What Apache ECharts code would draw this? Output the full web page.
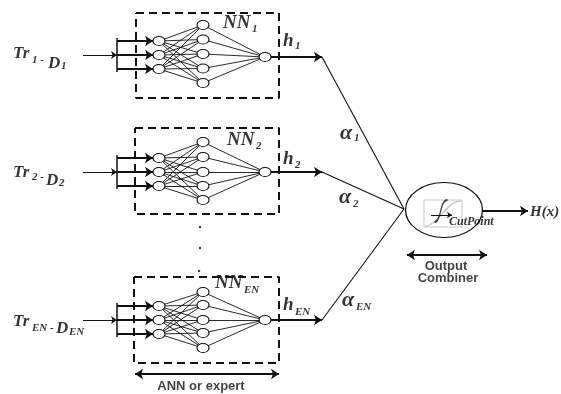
<!DOCTYPE html>
<html><head><meta charset="utf-8">
<script src="https://cdn.jsdelivr.net/npm/echarts@6/dist/echarts.min.js"></script>
<style>html,body{margin:0;padding:0;background:#fff}#c{width:561px;height:394px}</style>
</head><body><div id="c"></div>
<script>
// ---- diagram data (axis units = pixels of the 561x394 canvas) ----
const experts = ['1', '2', 'EN'];
const boxLeft = [136, 135, 134];
const boxRight = [279, 279, 279];
const boxTop = [13, 128, 277];
const boxBottom = [98, 214, 363];
const inputY = [[41, 55, 69], [158, 172, 186], [306, 320, 334]];
const hiddenY = [[25, 39.5, 54, 68.5, 83], [142, 157, 172, 186, 200], [292, 305, 320, 333, 348]];
const outputY = [57, 172, 320];
const trArrowY = [55, 172, 320];
const layerX = [159, 203, 265];
const bracketX = 117;
const trArrowStartX = 83;
const hArrowEndX = 322;
const combinerCenter = [444, 210];
const combinerJoin = [404, 209];
const outputArrowEnd = [528, 211];
const dotsX = [200, 200, 199];
const dotsY = [227, 248, 271];
const annArrow = [[135, 374], [279, 374]];
const combinerArrow = [[407, 255], [487, 255]];
const sigmoidBox = [[424, 200], [462, 200], [462, 227], [424, 227], [424, 200]];
const innerArrow = [[431, 215], [452, 215]];

// text content
const trMain = ['Tr', 'Tr', 'Tr'];
const trSubA = ['1 -', '2 -', 'EN -'];
const trD = ['D', 'D', 'D'];
const trSubB = ['1', '2', 'EN'];
const nnMain = ['NN', 'NN', 'NN'];
const hMain = ['h', 'h', 'h'];
const alphaMain = ['α', 'α', 'α'];
const subs = ['1', '2', 'EN'];

// text layout (left x, centre y)
const trMainPos = [[13, 54], [13, 173], [13, 322]];
const trSubAPos = [[32, 60], [32, 177.5], [32, 328.5]];
const trDPos = [[48, 64], [46, 180.5], [56, 329]];
const trSubBPos = [[61, 66.5], [59, 183.5], [69, 332]];
const nnPos = [[223, 23], [227, 140], [215, 283]];
const nnSubPos = [[252, 29], [256, 146], [244, 290]];
const hPos = [[283, 41], [283, 159], [283, 305]];
const hSubPos = [[295, 46.5], [295, 165], [295, 312.5]];
const alphaPos = [[340, 133], [339, 197], [342, 300]];
const alphaSubPos = [[354, 138.5], [353, 204], [356, 307.5]];

// ---- build ----
const series = [];
experts.forEach((e, i) => {
  series.push({
    type: 'line', symbol: 'none', silent: true, z: 2,
    lineStyle: {color: '#111', width: 2, type: [8, 5]},
    data: [[boxLeft[i], boxTop[i]], [boxRight[i], boxTop[i]], [boxRight[i], boxBottom[i]],
           [boxLeft[i], boxBottom[i]], [boxLeft[i], boxTop[i]]]
  });
});

const edges = [];
experts.forEach((e, i) => {
  inputY[i].forEach(y1 => hiddenY[i].forEach(y2 => edges.push({coords: [[layerX[0], y1], [layerX[1], y2]]})));
  hiddenY[i].forEach(y2 => edges.push({coords: [[layerX[1], y2], [layerX[2], outputY[i]]]}));
});
series.push({type: 'lines', coordinateSystem: 'cartesian2d', silent: true, z: 3,
  lineStyle: {color: '#111', width: 0.9, opacity: 1}, data: edges});

const brackets = experts.map((e, i) => ({coords: [[bracketX, inputY[i][0] - 3], [bracketX, inputY[i][2] + 3]]}));
series.push({type: 'lines', coordinateSystem: 'cartesian2d', silent: true, z: 3,
  lineStyle: {color: '#111', width: 1.5, opacity: 1}, data: brackets});

series.push({type: 'lines', coordinateSystem: 'cartesian2d', silent: true, z: 3,
  symbol: ['none', 'arrow'], symbolSize: 6,
  lineStyle: {color: '#111', width: 1, opacity: 1},
  data: experts.map((e, i) => ({coords: [[trArrowStartX, trArrowY[i]], [bracketX, trArrowY[i]]]}))});

const thick = [];
experts.forEach((e, i) => {
  inputY[i].forEach(y => thick.push({coords: [[bracketX, y], [layerX[0] - 6, y]]}));
  thick.push({coords: [[layerX[2] + 6, outputY[i]], [hArrowEndX, outputY[i]]]});
});
thick.push({coords: [[combinerCenter[0] + 39, outputArrowEnd[1]], outputArrowEnd]});
series.push({type: 'lines', coordinateSystem: 'cartesian2d', silent: true, z: 3,
  symbol: ['none', 'arrow'], symbolSize: 8,
  lineStyle: {color: '#111', width: 1.8, opacity: 1}, data: thick});

series.push({type: 'lines', coordinateSystem: 'cartesian2d', silent: true, z: 3,
  lineStyle: {color: '#111', width: 1.1, opacity: 1},
  data: experts.map((e, i) => ({coords: [[hArrowEndX, outputY[i]], combinerJoin]}))});

series.push({type: 'lines', coordinateSystem: 'cartesian2d', silent: true, z: 3,
  symbol: ['arrow', 'arrow'], symbolSize: 8,
  lineStyle: {color: '#111', width: 2, opacity: 1},
  data: [{coords: annArrow}, {coords: combinerArrow}]});

const nodes = [];
experts.forEach((e, i) => {
  inputY[i].forEach(y => nodes.push([layerX[0], y]));
  hiddenY[i].forEach(y => nodes.push([layerX[1], y]));
  nodes.push([layerX[2], outputY[i]]);
});
series.push({type: 'scatter', silent: true, z: 5, symbol: 'circle', symbolSize: [12, 9],
  itemStyle: {color: '#fff', borderColor: '#111', borderWidth: 1, opacity: 1}, data: nodes});

series.push({type: 'scatter', silent: true, z: 4, symbol: 'circle', symbolSize: [77, 55],
  itemStyle: {color: '#fff', borderColor: '#111', borderWidth: 1.1, opacity: 1}, data: [combinerCenter]});

series.push({type: 'line', symbol: 'none', silent: true, z: 6,
  lineStyle: {color: '#bbb', width: 0.8}, data: sigmoidBox});
series.push({type: 'scatter', silent: true, z: 6, symbol: 'path://M0,26 C14,26 22,0 38,0', symbolSize: [36, 25],
  itemStyle: {color: 'transparent', borderColor: '#aaa', borderWidth: 1}, data: [[443, 213.5]]});
series.push({type: 'scatter', silent: true, z: 7, symbol: 'path://M0,22 C7,22 5,0 13,0', symbolSize: [13, 22],
  itemStyle: {color: 'transparent', borderColor: '#111', borderWidth: 1.6}, data: [[441, 211]]});
series.push({type: 'lines', coordinateSystem: 'cartesian2d', silent: true, z: 7,
  symbol: ['none', 'arrow'], symbolSize: 5,
  lineStyle: {color: '#111', width: 1, opacity: 1}, data: [{coords: innerArrow}]});

series.push({type: 'scatter', silent: true, z: 5, symbol: 'circle', symbolSize: 2.5,
  itemStyle: {color: '#111'}, data: dotsX.map((x, i) => [x, dotsY[i]])});

// labels
const labels = [];
const serif = {fontFamily: 'Liberation Serif', fontWeight: 'bold', fontStyle: 'italic', color: '#000'};
const sans = {fontFamily: 'Liberation Sans', fontWeight: 'bold', fontStyle: 'normal', color: '#111'};
function lab(pos, text, style, size, position) {
  labels.push({value: pos, label: Object.assign({show: true, position: position || 'right', distance: 0,
    formatter: text, fontSize: size}, style)});
}
experts.forEach((e, i) => {
  lab(trMainPos[i], trMain[i], serif, 17);
  lab(trSubAPos[i], trSubA[i], serif, 11);
  lab(trDPos[i], trD[i], serif, 17);
  lab(trSubBPos[i], trSubB[i], serif, 11);
  lab(nnPos[i], nnMain[i], serif, 19);
  lab(nnSubPos[i], subs[i], serif, 11);
  lab(hPos[i], hMain[i], serif, 19);
  lab(hSubPos[i], subs[i], serif, 11);
  lab(alphaPos[i], alphaMain[i], serif, 22);
  lab(alphaSubPos[i], subs[i], serif, 11);
});
lab([530, 212], 'H(x)', serif, 15);
lab([449, 222], 'CutPoint', serif, 12);
lab([201, 386], 'ANN or expert', sans, 13, 'inside');
lab([446, 266], 'Output', sans, 13, 'inside');
lab([448, 278], 'Combiner', sans, 13, 'inside');
series.push({type: 'scatter', silent: true, z: 10, symbolSize: 0, data: labels});

const chart = echarts.init(document.getElementById('c'), null, {renderer: 'canvas'});
chart.setOption({
  animation: false,
  backgroundColor: '#fff',
  grid: {left: 0, right: 0, top: 0, bottom: 0},
  xAxis: {type: 'value', min: 0, max: 561, show: false},
  yAxis: {type: 'value', min: 0, max: 394, inverse: true, show: false},
  series
});
</script></body></html>
